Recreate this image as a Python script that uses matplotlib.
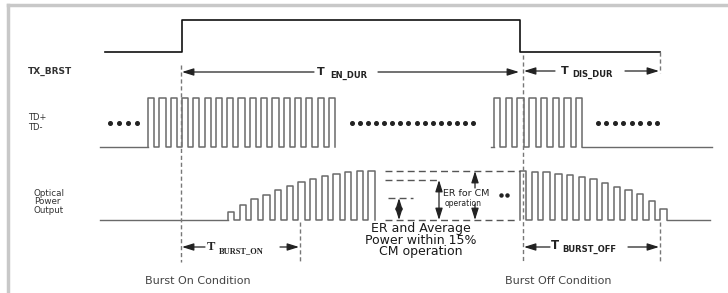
import numpy as np
import matplotlib.pyplot as plt

# signal timing (x axis = time in picture units)
tx_brst_edges = [105, 182, 520, 660]      # start, rise, fall, end
tx_brst_levels = [0, 1, 0]

td_burst_starts = [148, 494]
td_burst_counts = [17, 8]
td_periods = [11.3, 11.7]

# optical pulse amplitude (fraction of full CM power) during burst on / off
opt_on_heights = [0.17, 0.31, 0.42, 0.52, 0.62, 0.70, 0.78, 0.84, 0.89, 0.93, 0.97, 1.0, 1.0]
opt_off_heights = [1.0, 0.98, 0.98, 0.94, 0.92, 0.88, 0.84, 0.76, 0.68, 0.62, 0.53, 0.39, 0.23]
opt_starts = [228, 520]
opt_period = 11.7

# "...." filler dots on the TD row
dot_from = [110, 352, 598]
dot_to = [137, 473, 657]
dot_count = [4, 16, 8]

# layout of the rows
tx_low, tx_high = 52, 20
td_base, td_amp = 147, 49
opt_base, opt_amp = 220, 49

line_c = '#6a6a6a'
text_c = '#333333'


def pulse_train(start, period, heights, duty=0.55):
    xs, ys = [], []
    for i, h in enumerate(heights):
        x0 = start + i * period
        x1 = x0 + duty * period
        xs += [x0, x0, x1, x1]
        ys += [0, h, h, 0]
    return np.array(xs), np.array(ys)


fig = plt.figure(figsize=(7.28, 2.93), dpi=100)
fig.patch.set_facecolor('white')
ax = fig.add_axes([0, 0, 1, 1])
ax.set_xlim(0, 728)
ax.set_ylim(293, 0)
ax.axis('off')

# frame
ax.plot([8, 728], [5, 5], color='#c8c8c8', lw=2.5)
ax.plot([8, 8], [5, 293], color='#c8c8c8', lw=2.5)

# TX_BRST
xs, ys = [], []
for i, lvl in enumerate(tx_brst_levels):
    y = tx_high if lvl else tx_low
    xs += [tx_brst_edges[i], tx_brst_edges[i + 1]]
    ys += [y, y]
ax.plot(xs, ys, color='#111111', lw=1.2)

# TD+ / TD-
ax.plot([100, td_burst_starts[0]], [td_base, td_base], color=line_c, lw=1)
for s, n, p in zip(td_burst_starts, td_burst_counts, td_periods):
    px, py = pulse_train(s, p, [1.0] * n)
    ax.plot(px, td_base - td_amp * py, color=line_c, lw=1.1)
last2 = td_burst_starts[1] + (td_burst_counts[1] - 1 + 0.55) * td_periods[1]
ax.plot([td_burst_starts[1] - 3, td_burst_starts[1]], [td_base] * 2, color=line_c, lw=1)
ax.plot([last2, 712], [td_base, td_base], color=line_c, lw=1)

for a, b, n in zip(dot_from, dot_to, dot_count):
    ax.plot(np.linspace(a, b, n), [123] * n, ls='none', marker='o',
            ms=2.6, color='#222222')

# optical power output
ax.plot([100, opt_starts[0]], [opt_base] * 2, color=line_c, lw=1)
px, py = pulse_train(opt_starts[0], opt_period, opt_on_heights)
ax.plot(px, opt_base - opt_amp * py, color=line_c, lw=1.1)
px, py = pulse_train(opt_starts[1], opt_period, opt_off_heights)
ax.plot(px, opt_base - opt_amp * py, color=line_c, lw=1.1)
ax.plot([px[-1], 710], [opt_base] * 2, color=line_c, lw=1)

# dashed reference levels
dash = dict(color='#555555', lw=1, ls=(0, (5, 3)))
ax.plot([385, 520], [171, 171], **dash)
ax.plot([385, 440], [180, 180], **dash)
ax.plot([388, 413], [198, 198], **dash)
ax.plot([385, 516], [220, 220], **dash)

# dashed timing markers
vdash = dict(color='#777777', lw=1, ls=(0, (3, 2)))
ax.plot([181, 181], [65, 262], **vdash)
ax.plot([523, 523], [55, 262], **vdash)
ax.plot([300, 300], [222, 262], **vdash)
ax.plot([660, 660], [222, 261], **vdash)
ax.plot([660, 660], [52, 73], **vdash)


def arrow(x_tip, y_tip, x_tail, y_tail, style='-|>'):
    ax.annotate('', xy=(x_tip, y_tip), xytext=(x_tail, y_tail),
                arrowprops=dict(arrowstyle=style + ',head_length=0.7,head_width=0.22',
                                color='#222222', lw=0.9, shrinkA=0, shrinkB=0))


def tlabel(x, y, sub_x, main, sub, family='DejaVu Sans', size=8, sub_size=5.5):
    ax.text(x, y, main, fontsize=size, fontweight='bold', family=family,
            color='#222222', va='baseline', ha='left')
    ax.text(sub_x, y + 3, sub, fontsize=sub_size, fontweight='bold', family=family,
            color='#222222', va='baseline', ha='left')


# T_EN_DUR and T_DIS_DUR
arrow(182, 72, 314, 72)
arrow(519, 72, 378, 72)
tlabel(317, 75, 330, 'T', 'EN_DUR', sub_size=6)
arrow(524, 71, 555, 71)
arrow(659, 71, 625, 71)
tlabel(561, 74, 572, 'T', 'DIS_DUR', sub_size=6)

# T_BURST_ON and T_BURST_OFF
arrow(182, 247, 205, 247)
arrow(299, 247, 280, 247)
tlabel(207, 250, 219, 'T', 'BURST_ON', family='Liberation Serif', size=9, sub_size=6)
arrow(524, 247, 550, 247)
arrow(659, 247, 628, 247)
tlabel(551, 249, 562, 'T', 'BURST_OFF', size=8.5, sub_size=6)

# ER arrows
arrow(399, 198, 399, 220, style='<|-|>')
arrow(439, 180, 439, 220, style='<|-|>')
arrow(475, 171, 475, 188)
arrow(475, 220, 475, 204)
ax.text(443, 194, 'ER for CM', fontsize=6.8, color='#222222', va='center', ha='left')
ax.text(445, 203, 'operation', fontsize=5.5, color='#222222', va='center', ha='left')
ax.plot([501, 507], [195, 195], ls='none', marker='o', ms=2.2, color='#222222')

ax.text(421, 240, 'ER and Average\nPower within 15%\nCM operation', fontsize=9,
        color='#1a1a1a', ha='center', va='center', linespacing=0.88)

# row labels
ax.text(28, 71, 'TX_BRST', fontsize=6.5, fontweight='bold', color=text_c, va='center')
ax.text(28, 118, 'TD+', fontsize=6, color=text_c, va='center')
ax.text(28, 128, 'TD-', fontsize=6, color=text_c, va='center')
ax.text(34, 202, 'Optical\nPower\nOutput', fontsize=6.3, color=text_c, va='center',
        linespacing=0.95)

ax.text(145, 281, 'Burst On Condition', fontsize=8, color='#444444', va='center')
ax.text(505, 281, 'Burst Off Condition', fontsize=8, color='#444444', va='center')

fig.savefig('out.png', dpi=100)
